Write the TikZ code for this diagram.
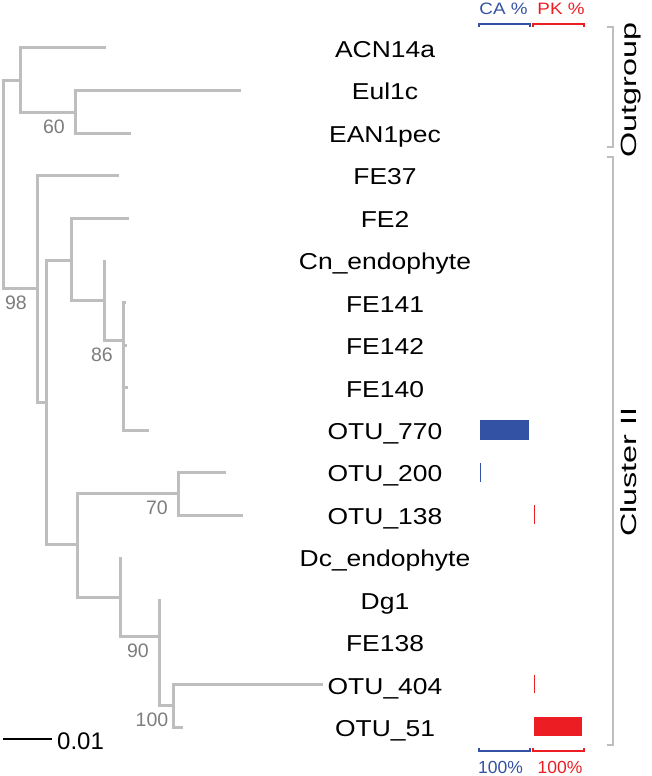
\documentclass[tikz,border=0pt]{standalone}
\usepackage{fontspec}
\setmainfont{Liberation Sans}
\newfontfamily\leaffont{Liberation Sans}[FakeStretch=1.15]
\newfontfamily\sidefont{Liberation Sans}[FakeStretch=1.47]
\newfontfamily\headfont{Liberation Sans}[FakeStretch=1.14]
\usetikzlibrary{positioning, calc}
\definecolor{treegray}{RGB}{190,190,190}
\definecolor{bootgray}{RGB}{125,125,125}
\definecolor{cablue}{RGB}{52,82,164}
\definecolor{pkred}{RGB}{236,30,36}

\begin{document}
\begin{tikzpicture}[x=1pt, y=-1pt,
    branch/.style={treegray, line width=3pt},
    leaf/.style={font=\leaffont\fontsize{23}{23}\selectfont, anchor=base, inner sep=0pt},
    boot/.style={font=\fontsize{19.5}{19.5}\selectfont, text=bootgray, inner sep=0pt},
    side/.style={font=\sidefont\fontsize{22}{22}\selectfont, rotate=90, inner sep=0pt},
    head/.style={font=\headfont\fontsize{16.5}{16.5}\selectfont, anchor=base, inner sep=0pt},
    foot/.style={font=\fontsize{17.5}{17.5}\selectfont, anchor=base, inner sep=0pt},
    brace/.style={line width=2pt},
    group/.style={treegray, line width=2.5pt}
]
\useasboundingbox (0,0) rectangle (651,776);

% internal nodes
\coordinate (ROOT)    at (3,184);
\coordinate (OUTGRP)  at (20,80);
\coordinate (EUL)     at (75,112);
\coordinate (CLUSTER) at (37,288);
\coordinate (SUB)     at (46,402);
\coordinate (UPPER)   at (71,260);
\coordinate (CN)      at (104,300);
\coordinate (FE)      at (123,340);
\coordinate (LOWER)   at (77,544);
\coordinate (OTU)     at (178,493);
\coordinate (DC)      at (120,597);
\coordinate (DG)      at (159,636);
\coordinate (PAIR)    at (173,705);

% leaf tips
\coordinate (tACN)  at (106,48);
\coordinate (tEUL)  at (241,90);
\coordinate (tEAN)  at (131,133);
\coordinate (tF37)  at (119,175);
\coordinate (tFE2)  at (129,218);
\coordinate (tCN)   at (104,260);
\coordinate (tF141) at (126,302);
\coordinate (tF142) at (127,345);
\coordinate (tF140) at (128,387);
\coordinate (tO770) at (149,430);
\coordinate (tO200) at (226,472);
\coordinate (tO138) at (243,515);
\coordinate (tDC)   at (120,557);
\coordinate (tDG)   at (159,599);
\coordinate (tF138) at (161,642);
\coordinate (tO404) at (323,684);
\coordinate (tO51)  at (183,727);

\draw[branch] (ROOT) |- (OUTGRP);
\draw[branch] (ROOT) |- (CLUSTER);
\draw[branch] (OUTGRP) |- (tACN);
\draw[branch] (OUTGRP) |- (EUL);
\draw[branch] (EUL) |- (tEUL);
\draw[branch] (EUL) |- (tEAN);
\draw[branch] (CLUSTER) |- (tF37);
\draw[branch] (CLUSTER) |- (SUB);
\draw[branch] (SUB) |- (UPPER);
\draw[branch] (SUB) |- (LOWER);
\draw[branch] (UPPER) |- (tFE2);
\draw[branch] (UPPER) |- (CN);
\draw[branch] (CN) |- (tCN);
\draw[branch] (CN) |- (FE);
\foreach \t in {tF141,tF142,tF140,tO770}
  \draw[branch] (FE) |- (\t);
\draw[branch] (LOWER) |- (OTU);
\draw[branch] (LOWER) |- (DC);
\draw[branch] (OTU) |- (tO200);
\draw[branch] (OTU) |- (tO138);
\draw[branch] (DC) |- (tDC);
\draw[branch] (DC) |- (DG);
\draw[branch] (DG) |- (tDG);
\draw[branch] (DG) |- (tF138);
\draw[branch] (DG) |- (PAIR);
\draw[branch] (PAIR) |- (tO404);
\draw[branch] (PAIR) |- (tO51);

% bootstrap values
\foreach \n/\v in {EUL/60, CLUSTER/98, FE/86, OTU/70, DG/90, PAIR/100}
  \node[boot] (B\v) at ([shift={(-21,15)}]\n) {\v};

% leaf labels
\foreach \lab [count=\i from 0] in {ACN14a,Eul1c,EAN1pec,FE37,FE2,Cn\_endophyte,FE141,FE142,FE140,OTU\_770,OTU\_200,OTU\_138,Dc\_endophyte,Dg1,FE138,OTU\_404,OTU\_51}
  \node[leaf] (LEAF\i) at (385,{57.5+42.44*\i}) {\lab};

% CA / PK columns
\node[head, text=cablue] (CAHEAD) at (503.5,15) {CA \%};
\node[head, text=pkred]  (PKHEAD) at (561,15) {PK \%};
\draw[brace, cablue] (479,27) |- (530,24) -- (530,27);
\draw[brace, pkred]  (533,27) |- (584,24) -- (584,27);
\draw[brace, cablue] (479,748) |- (530,751) -- (530,748);
\draw[brace, pkred]  (533,748) |- (584,751) -- (584,748);
\node[foot, text=cablue] (CAFOOT) at (500.5,773) {100\%};
\node[foot, text=pkred]  (PKFOOT) at (560,773) {100\%};

\fill[cablue] (480,420) rectangle (529,440);
\fill[cablue] (479.5,463) rectangle (481,482);
\fill[pkred]  (533.5,505) rectangle (535,524);
\fill[pkred]  (533.5,675) rectangle (535,693);
\fill[pkred]  (534,717) rectangle (582,736);

% groups
\draw[group] (607,27) -| (613,147) -- (607,147);
\draw[group] (607,157) -| (613,745) -- (607,745);
\node[side] (OUTLAB) at (631,90) {Outgroup};
\node[side] (CLULAB) at (629,472) {Cluster II};

% scale bar
\coordinate (SB0) at (3,739);
\coordinate (SB1) at (52,739);
\draw[line width=1.5pt] (SB0) -- (SB1);
\node[font=\fontsize{24}{24}\selectfont, anchor=base west, inner sep=0pt] (SBLAB) at (57,749) {0.01};
\end{tikzpicture}
\end{document}
